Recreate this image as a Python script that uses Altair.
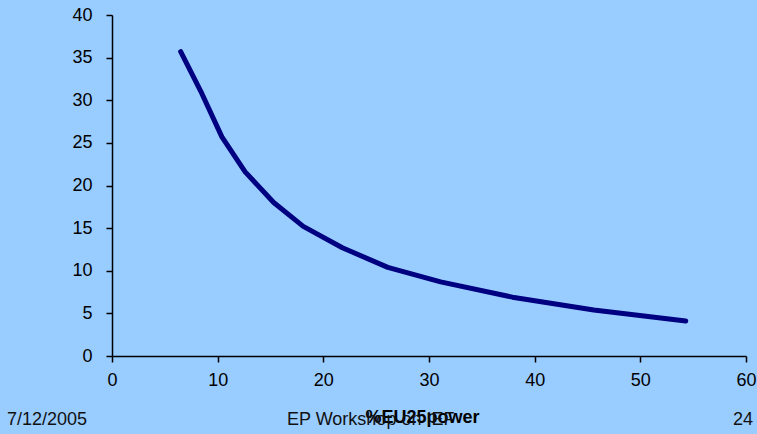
import altair as alt
import pandas as pd

# data
x_vals = [6.5, 8.5, 10.4, 12.6, 15.3, 18.1, 21.8, 26.1, 31.1, 37.9, 45.6, 54.3]
y_vals = [35.7, 30.8, 25.7, 21.6, 18.0, 15.2, 12.7, 10.4, 8.7, 6.9, 5.4, 4.1]
x_ticks = [0, 10, 20, 30, 40, 50, 60]
y_ticks = [0, 5, 10, 15, 20, 25, 30, 35, 40]
x_title = "%EU25power"
footer_left = "7/12/2005"
footer_mid = "EP Workshop on IEF"
footer_right = "24"

df = pd.DataFrame({"x": x_vals, "y": y_vals})

FONT = "Liberation Sans"
BG = "#99CCFF"

line = alt.Chart(df).mark_line(
    color="#000080", strokeWidth=5, strokeCap="round", strokeJoin="round"
).encode(
    x=alt.X("x:Q", scale=alt.Scale(domain=[0, 60], nice=False),
            axis=alt.Axis(values=x_ticks, title=x_title, grid=False, labelFlush=False,
                          domainColor="black", domainWidth=1.5, tickColor="black",
                          tickWidth=1.5, tickSize=6, labelFontSize=18,
                          labelColor="black", labelPadding=9, labelFont=FONT,
                          titleFont=FONT, titleFontSize=18, titleFontWeight="bold",
                          titleColor="black", titlePadding=19, titleX=310)),
    y=alt.Y("y:Q", scale=alt.Scale(domain=[0, 40], nice=False),
            axis=alt.Axis(values=y_ticks, title=None, grid=False, labelFlush=False,
                          domainColor="black", domainWidth=1.5, tickColor="black",
                          tickWidth=1.5, tickSize=6, labelFontSize=18,
                          labelColor="black", labelPadding=14, labelFont=FONT)),
)

def footer(text, xpos, align):
    return alt.Chart(pd.DataFrame({"t": [text]})).mark_text(
        font=FONT, fontSize=18, color="#111111", align=align, baseline="alphabetic"
    ).encode(text="t:N", x=alt.value(xpos), y=alt.value(410))

chart = alt.layer(
    line,
    footer(footer_left, -105, "left"),
    footer(footer_mid, 175, "left"),
    footer(footer_right, 641, "right"),
).properties(
    width=634, height=341,
    background=BG,
    padding={"left": 112, "top": 15, "right": 11, "bottom": 78},
    autosize=alt.AutoSizeParams(type="none"),
).configure_view(stroke=None, fill=BG)

chart.save("out.html", embed_options={"renderer": "svg", "actions": False})
